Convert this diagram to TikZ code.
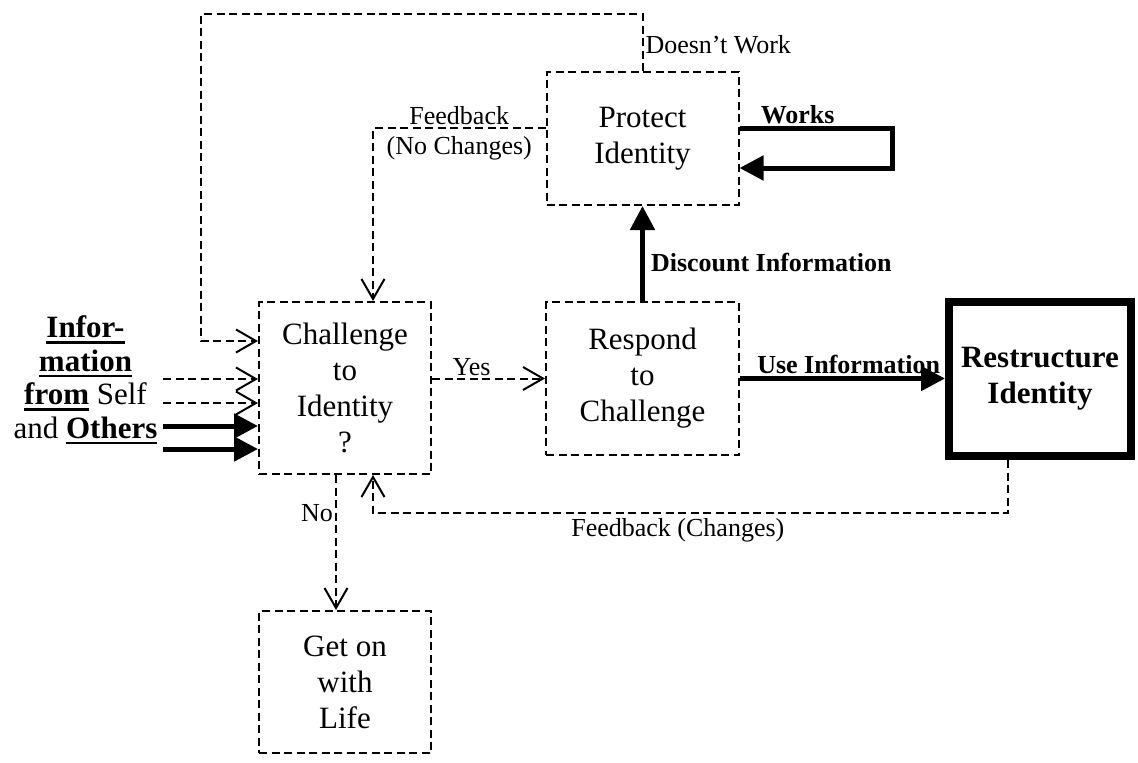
\documentclass[tikz,border=0pt]{standalone}
\usepackage{fontspec}
\setmainfont{Liberation Serif}
\usetikzlibrary{arrows.meta,positioning}
\newcommand{\boxfont}{\fontsize{31}{36}\selectfont}
\newcommand{\lblfont}{\fontsize{26}{29}\selectfont}
\newcommand{\infofont}{\fontsize{31}{33.5}\selectfont}
% bold word with a heavy underline
\newcommand{\ulbf}[1]{\setbox0\hbox{\bfseries #1}\rlap{\rule[-6pt]{\wd0}{2.5pt}}\box0\relax}

\begin{document}
\begin{tikzpicture}[x=1pt,y=-1pt,
    box/.style={draw,dash pattern=on 8pt off 4.5pt,line width=2pt,align=center,font=\boxfont},
    fb/.style={dash pattern=on 8pt off 4.5pt,line width=2pt,-{Straight Barb[length=20pt,width=23pt]}},
    strong/.style={line width=5pt,-{Triangle[length=24pt,width=24pt]}},
    lbl/.style={font=\lblfont,inner sep=2pt}]
  \useasboundingbox (0,0) rectangle (1138,763);

  \node[box,minimum width=172pt,minimum height=172pt] (chal) at (345,388) {Challenge\\to\\Identity\\?};
  \node[box,minimum width=193pt,minimum height=153pt] (resp) at (642.5,378.5) {Respond\\to\\Challenge};
  \node[box,minimum width=192pt,minimum height=133pt,above=95pt of resp] (prot) {Protect\\Identity};
  \node[box,minimum width=172pt,minimum height=142pt,below=135pt of chal] (life) {Get on\\with\\Life};
  \node[draw,line width=8pt,minimum width=182pt,minimum height=154pt,align=center,font=\boxfont\bfseries] (rest) at (1040,379) {Restructure\\Identity};
  \node[align=center,font=\infofont] (info) at (85.5,380) {\ulbf{Infor-}\\\ulbf{mation}\\\ulbf{from} Self\\and \ulbf{Others}};

  % inputs
  \coordinate (self1) at (163,379);
  \coordinate (self2) at (163,403);
  \coordinate (oth1) at (163,426);
  \coordinate (oth2) at (163,449);
  \coordinate (dwcorner) at (201,14);
  \draw[fb] (self1) -- (self1 -| chal.west);
  \draw[fb] (self2) -- (self2 -| chal.west);
  \draw[strong] (oth1) -- (oth1 -| chal.west);
  \draw[strong] (oth2) -- (oth2 -| chal.west);

  % decision
  \draw[fb] (chal.east |- resp.west) -- (resp.west) node[lbl,pos=0.35,above]{Yes};
  \draw[fb] ([xshift=-9pt]chal.south) -- ([xshift=-9pt]life.north) node[lbl,pos=0.28,left]{No};

  % responses
  \draw[strong] (resp.north) -- (prot.south) node[lbl,pos=0.4,right,xshift=4pt,font=\lblfont\bfseries]{Discount Information};
  \draw[strong] (resp.east) -- (resp.east -| rest.west) node[lbl,pos=0.53,above,font=\lblfont\bfseries]{Use Information};
  \draw[strong] ([yshift=10.5pt]prot.east) -- ++(153,0) node[lbl,pos=0.38,above,font=\lblfont\bfseries]{Works} |- ([yshift=-29.5pt]prot.east);

  % feedback loops
  \draw[fb] (prot.north) |- node[lbl,pos=0.25,right,yshift=-2pt]{Doesn't Work} (dwcorner) |- ([yshift=47pt]chal.west);
  \draw[fb] ([yshift=10.5pt]prot.west) -| node[lbl,pos=0.25,above]{Feedback} node[lbl,pos=0.25,below,yshift=-5pt]{(No Changes)} ([xshift=28pt]chal.north);
  \draw[fb] ([xshift=-32pt]rest.south) -- ++(0,53) -| node[lbl,pos=0.26,below,yshift=-2pt]{Feedback (Changes)} ([xshift=28pt]chal.south);
\end{tikzpicture}
\end{document}
